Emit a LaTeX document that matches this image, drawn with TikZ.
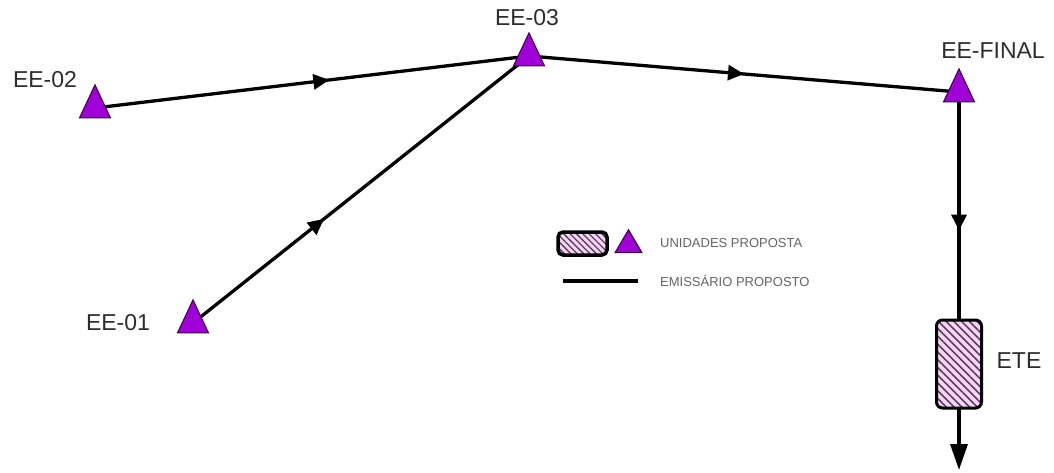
\documentclass[tikz,border=0pt]{standalone}
\usepackage{fontspec}
\setmainfont{Liberation Sans}
\usetikzlibrary{shapes.geometric,arrows.meta,decorations.markings,patterns.meta,backgrounds}
\definecolor{stpurple}{RGB}{160,0,215}
\definecolor{txtgray}{RGB}{45,45,45}
\definecolor{leggray}{RGB}{100,100,100}
\definecolor{hatchfill}{RGB}{245,215,245}
\definecolor{hatchline}{RGB}{90,60,100}
\tikzset{
  station/.style={isosceles triangle, shape border rotate=90, isosceles triangle stretches=true,
    minimum height=#1, minimum width=31pt, inner sep=0pt, fill=stpurple, draw=black!70!stpurple, line width=1pt},
  station/.default=33pt,
  lbl/.style={text=txtgray, font=\fontsize{23}{26}\selectfont, inner sep=0pt},
  leglbl/.style={text=leggray, font=\fontsize{13}{15}\selectfont, inner sep=0pt, anchor=west},
  pipe/.style={line width=3.3pt, black},
  midarrow/.style={postaction={decorate}, decoration={markings, mark=at position #1 with {\arrow{Triangle[length=16pt,width=15pt]}}}},
  unitbox/.style={rectangle, rounded corners=6pt, draw=black, line width=3pt,
    preaction={fill=hatchfill}, pattern={Lines[angle=-45,distance=5.5pt,line width=1.6pt]}, pattern color=hatchline, inner sep=0pt}
}
\begin{document}
\begin{tikzpicture}[x=1pt,y=-1pt]
\useasboundingbox (0,0) rectangle (1054,472);
% stations
\node[station] (ee2) at (95,108) {};
\node[station] (ee3) at (529,56) {};
\node[station] (ee1) at (193,323) {};
\node[station] (eef) at (959,92) {};
\node[unitbox, minimum width=45pt, minimum height=88pt] (ete) at (959,364) {};
\coordinate (out) at (959,470);
% labels
\node[lbl] (l2) at (45,80) {EE-02};
\node[lbl] (l3) at (527,18) {EE-03};
\node[lbl] (l1) at (118,323) {EE-01};
\node[lbl] (lf) at (993,51) {EE-FINAL};
\node[lbl] (le) at (1019,361) {ETE};
% pipes
\begin{pgfonlayer}{background}
\draw[pipe, midarrow=0.54] (ee2.center) -- (ee3.center);
\draw[pipe, midarrow=0.39] (ee1.center) -- (ee3.center);
\draw[pipe, midarrow=0.5] (ee3.center) -- (eef.center);
\draw[pipe, midarrow=0.61] (eef.center) -- (ete.north);
\end{pgfonlayer}
\draw[pipe, -{Triangle[length=26pt,width=17pt]}] (ete.south) -- (out);
% legend
\node[unitbox, minimum width=49pt, minimum height=23pt, rounded corners=5pt, line width=3.5pt, pattern={Lines[angle=-45,distance=4.5pt,line width=1.3pt]}] (legbox) at (582.5,243.5) {};
\node[station=23pt, minimum width=27pt] (legtri) at (628.5,245) {};
\coordinate (legA) at (563,281);
\coordinate (legB) at (638,281);
\draw[pipe] (legA) -- (legB);
\node[leglbl] (t1) at (660,243) {UNIDADES PROPOSTA};
\node[leglbl] (t2) at (660,281) {EMISSÁRIO PROPOSTO};
\end{tikzpicture}
\end{document}
